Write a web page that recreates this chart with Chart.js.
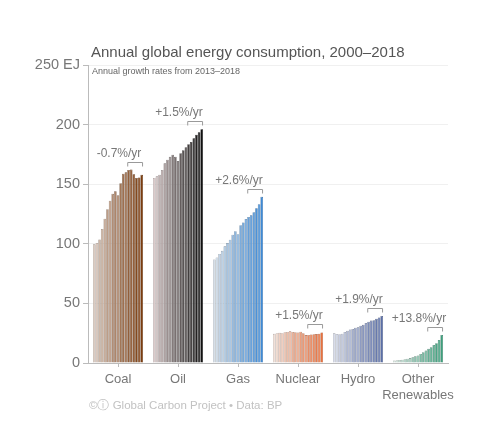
<!DOCTYPE html>
<html>
<head>
<meta charset="utf-8">
<script src="https://cdn.jsdelivr.net/npm/chart.js@4/dist/chart.umd.min.js"></script>
<style>
html,body{margin:0;padding:0;background:#fff;}
canvas{display:block;}
</style>
</head>
<body>
<canvas id="c" width="479" height="426"></canvas>
<script>
// ---- Data (EJ) ----
const years = [2000,2001,2002,2003,2004,2005,2006,2007,2008,2009,2010,2011,2012,2013,2014,2015,2016,2017,2018];
const categories = ['Coal','Oil','Gas','Nuclear','Hydro',['Other','Renewables']];
const coal    = [99.6,100.7,103.7,112.5,121.1,129.0,136.1,141.9,144.0,140.8,150.9,158.8,160.0,162.0,162.3,158.3,155.2,155.7,157.9];
const oil     = [155.2,156.6,158.0,162.0,167.5,170.5,173.0,174.8,173.0,169.5,176.0,178.5,181.0,183.5,185.5,188.5,191.5,193.5,196.0];
const gas     = [86.9,88.6,91.5,94.1,97.9,100.6,103.4,107.6,110.6,108.1,115.6,117.9,120.9,122.5,123.9,126.5,129.8,133.2,139.4];
const nuclear = [24.5,25.0,25.3,25.0,25.9,26.1,26.6,26.0,25.9,25.6,26.2,25.0,23.4,23.5,24.0,24.1,24.3,24.6,25.6];
const hydro   = [24.9,24.4,24.2,24.6,26.0,27.0,28.0,28.6,29.6,29.9,31.3,32.0,33.6,34.7,35.6,35.9,37.1,38.2,39.5];
const other   = [2.2,2.3,2.6,2.8,3.2,3.6,4.1,4.8,5.6,6.3,7.6,9.0,10.4,11.9,13.3,15.1,16.6,19.4,23.5];
const growthLabels = ['-0.7%/yr','+1.5%/yr','+2.6%/yr','+1.5%/yr','+1.9%/yr','+13.8%/yr'];
const yTicks = [0,50,100,150,200,250];
const series = [coal, oil, gas, nuclear, hydro, other];
const bracketFrom = years.indexOf(2013);
const bracketTo = years.indexOf(2018);

// ---- Styles ----
const startColors = ['#dccbc0','#dccbcb','#d6dfe8','#f2e0d8','#d8dcea','#d6e6de'];
const endColors   = ['#7a3a0c','#0e0e0e','#3c89d6','#e8703c','#5a6ea6','#3c9e7c'];
function hex(h){return [parseInt(h.substr(1,2),16),parseInt(h.substr(3,2),16),parseInt(h.substr(5,2),16)];}
function mix(a,b,t){const A=hex(a),B=hex(b);return A.map((v,i)=>Math.round(v+(B[i]-v)*t));}
function rgb(c,f){f=f||1;return 'rgb('+c.map(v=>Math.round(v*f)).join(',')+')';}

const datasets = years.map((yr, yi) => {
  const t = Math.pow(yi/(years.length-1), 0.9);
  const cols = categories.map((c, ci) => mix(startColors[ci], endColors[ci], t));
  return {
    label: String(yr),
    data: series.map(s => s[yi]),
    backgroundColor: cols.map(c => rgb(c)),
    borderColor: cols.map(c => rgb(c, 0.7)),
    borderWidth: 0.6,
    borderSkipped: 'bottom',
    barPercentage: 1.0,
    categoryPercentage: 0.835
  };
});

const FONT = '"Liberation Sans", Arial, Helvetica, sans-serif';

const annot = {
  id: 'annot',
  afterDatasetsDraw(chart) {
    const ctx = chart.ctx;
    const ys = chart.scales.y, xs = chart.scales.x;
    const m0 = chart.getDatasetMeta(bracketFrom), m1 = chart.getDatasetMeta(bracketTo);
    ctx.save();
    categories.forEach((c, i) => {
      const e0 = m0.data[i], e1 = m1.data[i];
      const left = e0.x - e0.width/2, right = e1.x + e1.width/2;
      const maxV = Math.max(...series[i].slice(bracketFrom, bracketTo+1));
      const yb = Math.round(ys.getPixelForValue(maxV) - 8) + 0.5;
      ctx.strokeStyle = '#9a9a9a';
      ctx.lineWidth = 1;
      ctx.beginPath();
      ctx.moveTo(left+0.5, yb+4); ctx.lineTo(left+0.5, yb); ctx.lineTo(right-0.5, yb); ctx.lineTo(right-0.5, yb+4);
      ctx.stroke();
      ctx.fillStyle = '#777';
      ctx.font = '12px ' + FONT;
      ctx.textAlign = 'center';
      ctx.textBaseline = 'middle';
      ctx.fillText(growthLabels[i], xs.getPixelForValue(i) + 1, yb - 9);
    });
    ctx.restore();
  },
  afterDraw(chart) {
    const ctx = chart.ctx;
    ctx.save();
    ctx.textAlign = 'left';
    ctx.textBaseline = 'middle';
    ctx.fillStyle = '#555';
    ctx.font = '15px ' + FONT;
    ctx.fillText('Annual global energy consumption, 2000\u20132018', 91, 53);
    ctx.fillStyle = '#666';
    ctx.font = '9px ' + FONT;
    ctx.fillText('Annual growth rates from 2013\u20132018', 92, 72);
    ctx.fillStyle = '#c2c2c2';
    ctx.font = '11.5px ' + FONT;
    ctx.fillText('\u00a9\u24d8 Global Carbon Project \u2022 Data: BP', 89, 406);
    ctx.restore();
  }
};

new Chart(document.getElementById('c'), {
  type: 'bar',
  data: { labels: categories, datasets },
  options: {
    responsive: false,
    animation: false,
    layout: { padding: { top: 65, right: 31, bottom: 0, left: 0 } },
    plugins: { legend: { display: false }, tooltip: { enabled: false }, title: { display: false } },
    scales: {
      x: {
        afterFit(s) { s.height = 63; },
        grid: { drawOnChartArea: false, offset: false, tickLength: 4, tickColor: '#bbb' },
        border: { color: '#bbb' },
        ticks: { color: '#777', font: { family: FONT, size: 13 }, padding: 5, maxRotation: 0, autoSkip: false }
      },
      y: {
        min: 0, max: 250,
        afterFit(s) { s.width = 88; },
        afterBuildTicks(s) { s.ticks = yTicks.map(v => ({ value: v })); },
        grid: { color: 'rgba(0,0,0,0.06)', tickColor: '#bbb', tickLength: 5 },
        border: { color: '#bbb' },
        ticks: {
          color: '#777', font: { family: FONT, size: 14.5 }, padding: 3,
          callback: v => v === 250 ? '250 EJ' : String(v)
        }
      }
    }
  },
  plugins: [annot]
});
</script>
</body>
</html>
